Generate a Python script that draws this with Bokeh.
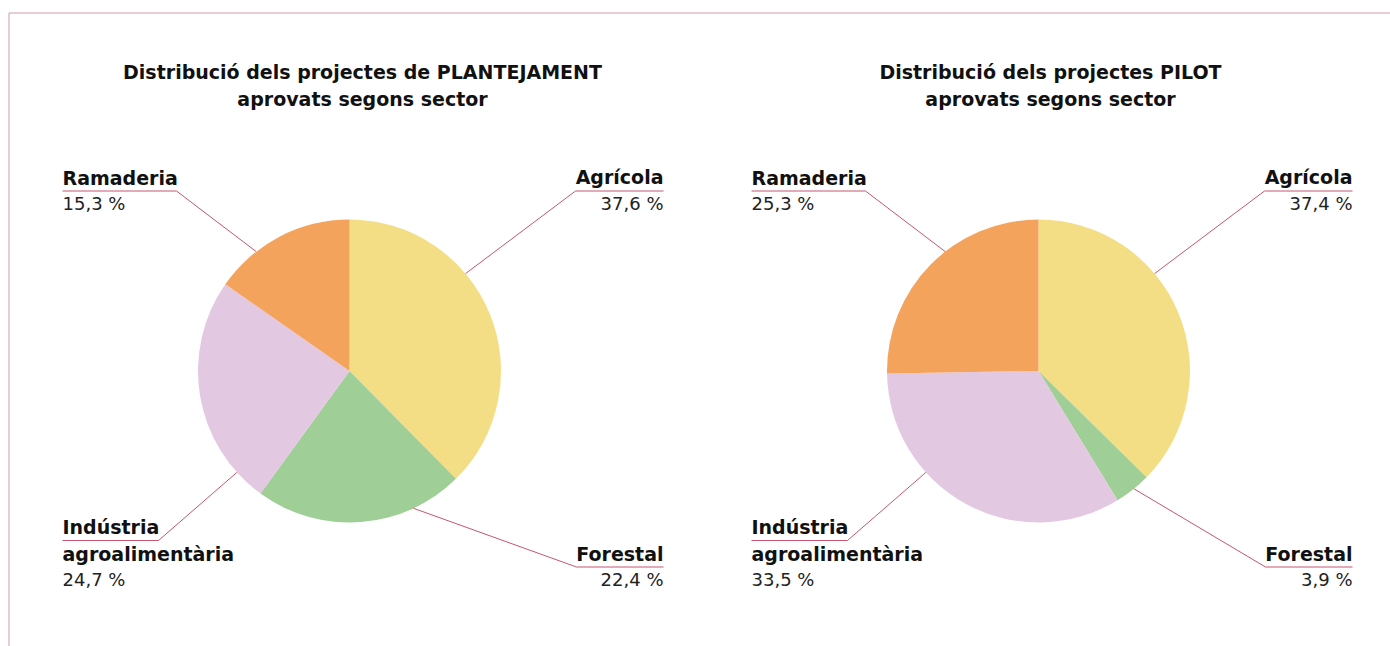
import math
from bokeh.plotting import figure
from bokeh.models import Range1d
from bokeh.core.properties import value
from bokeh.embed import file_html
from bokeh.resources import INLINE

# ---------------- data ----------------
sectors = ["Agrícola", "Forestal", "Indústria\nagroalimentària", "Ramaderia"]
plantejament = [37.6, 22.4, 24.7, 15.3]
pilot = [37.4, 3.9, 33.5, 25.3]
colors = ["#f3de86", "#9fce97", "#e2c8e0", "#f4a35c"]
titles = [["Distribució dels projectes de PLANTEJAMENT", "aprovats segons sector"],
          ["Distribució dels projectes PILOT", "aprovats segons sector"]]

# ---------------- layout (page pixels) ----------------
W, H = 1390, 646
FONT = value("DejaVu Sans")
LINE_C = "#c4566f"
BORDER_C = "#d29aaa"
TSHIFT = -7  # text baseline correction

def Y(yi):  # image y -> data y
    return H - yi

def X(xi):
    return xi

p = figure(width=W, height=H, output_backend="svg", toolbar_location=None,
           x_range=Range1d(0, W), y_range=Range1d(0, H),
           min_border=0, x_axis_location=None, y_axis_location=None,
           outline_line_color=None)
p.grid.visible = False

# border lines
p.line([X(8.5), X(1400)], [Y(12.5), Y(12.5)], line_color=BORDER_C, line_width=1)
p.line([X(8.5), X(8.5)], [Y(12.5), Y(660)], line_color=BORDER_C, line_width=1)

R = 151.5
pies = [
    dict(vals=plantejament, cx=349, title_x=362, dx=0,
         lead=[50, 155, 228, 322]),
    dict(vals=pilot, cx=1038, title_x=1050, dx=689,
         lead=[50, 141, 228, 322]),
]
CY = 370.5

# label layout for the left pie (side, text x, baseline, underline length)
lab = [
    dict(side="right", x=663, base=183.5, ul=88),
    dict(side="right", x=663, base=560, ul=87),
    dict(side="left", x=62, base=533.5, ul=96),
    dict(side="left", x=62, base=184, ul=114),
]

for pie, ttl in zip(pies, titles):
    vals = pie["vals"]
    tot = sum(vals)
    starts, ends = [], []
    c = 0.0
    for v in vals:
        starts.append(math.pi / 2 - 2 * math.pi * c / tot)
        c += v
        ends.append(math.pi / 2 - 2 * math.pi * c / tot)
    p.wedge(x=[X(pie["cx"])] * 4, y=[Y(CY)] * 4, radius=R,
            start_angle=starts, end_angle=ends, direction="clock",
            fill_color=colors, line_color=None)

    # title
    p.text(x=[X(pie["title_x"])] * 2, y=[Y(78.5 + TSHIFT), Y(105.5 + TSHIFT)], text=ttl,
           text_font=FONT, text_font_style="bold", text_font_size="19px",
           text_align="center", text_baseline="alphabetic", text_color="#111111")

    for i, (name, v) in enumerate(zip(sectors, vals)):
        L = lab[i]
        tx = L["x"] + pie["dx"]
        base = L["base"]
        ul_y = 190.5 if base < 300 else base + 6.5
        lines = name.split("\n")
        align = "right" if L["side"] == "right" else "left"
        for k, ln in enumerate(lines):
            p.text(x=[X(tx)], y=[Y(base + 27 * k + TSHIFT)], text=[ln], text_font=FONT,
                   text_font_style="bold", text_font_size="19px", text_align=align,
                   text_baseline="alphabetic", text_color="#111111")
        pct = f"{v:.1f}".replace(".", ",") + " %"
        p.text(x=[X(tx)], y=[Y(base + 26 * len(lines) + TSHIFT)], text=[pct], text_font=FONT,
               text_font_size="18px", text_align=align, text_baseline="alphabetic",
               text_color="#222222")
        # underline + leader
        if L["side"] == "right":
            u0, u1 = tx - L["ul"], tx
            joint = u0
        else:
            u0, u1 = tx, tx + L["ul"]
            joint = u1
        a = math.radians(pie["lead"][i])
        ax = pie["cx"] + R * math.sin(a)
        ay = CY - R * math.cos(a)
        p.line([X(u1) if L["side"] == "right" else X(u0), X(joint), X(ax)],
               [Y(ul_y), Y(ul_y), Y(ay)], line_color=LINE_C, line_width=1)

open("out.html", "w").write(file_html(p, INLINE))
